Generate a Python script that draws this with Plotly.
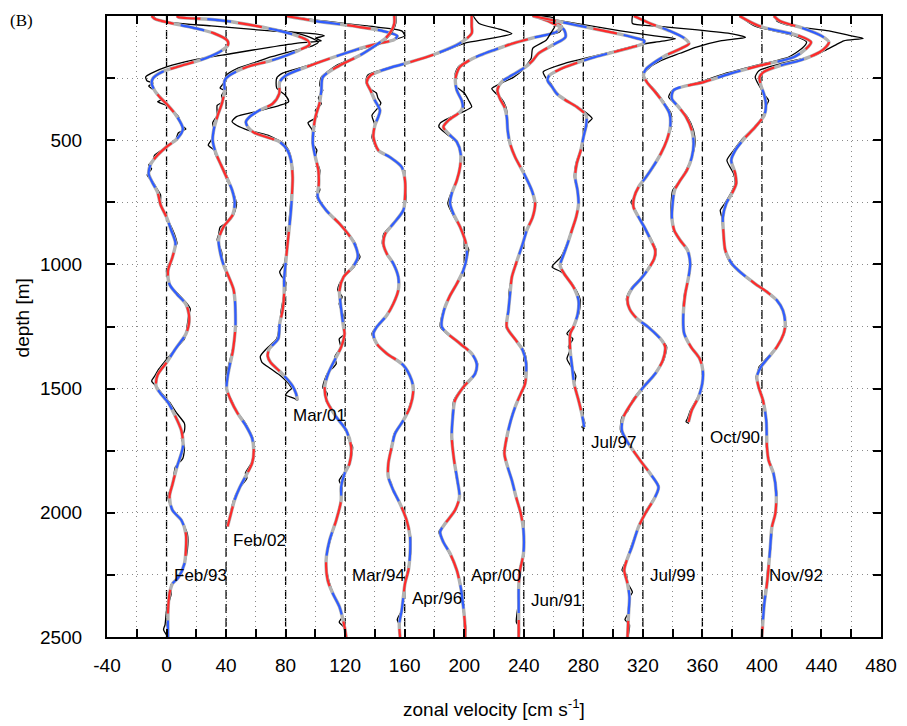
import plotly.graph_objects as go

# ---------------- data (depth [m], zonal velocity [cm/s] relative to profile offset) -------------
NAMES = ["Feb/93", "Feb/02", "Mar/01", "Mar/94", "Apr/96", "Apr/00",
         "Jun/91", "Jul/97", "Jul/99", "Oct/90", "Nov/92"]
OFFSETS = [0, 40, 80, 120, 160, 200, 240, 280, 320, 360, 400]
LABEL_DEPTH = [2252, 2111, 1608, 2252, 2344, 2252, 2352, 1715, 2252, 1695, 2252]

FEB93_S = [(0,-10),(11,-8),(30,4),(50,20),(70,32),(100,41),(120,41),(150,34),(175,24),(200,10),(225,-3),(250,-9),(270,-10),(300,-8),(330,-4),(360,1),(405,7),(455,11),(495,7),(527,0),(560,-6),(595,-10.5),(635,-12),(670,-9.5),(710,-6),(760,-4),(810,0),(860,3),(915,6),(970,4),(1025,1),(1080,2),(1120,7),(1160,13),(1200,15),(1240,15),(1280,13),(1340,6),(1395,0),(1445,-6),(1490,-7),(1520,-4),(1555,1),(1600,5),(1670,10),(1735,11),(1815,7),(1885,4),(1935,2),(1990,4),(2030,10),(2085,13),(2150,13),(2205,12),(2260,8),(2285,4),(2325,2),(2395,1),(2500,1)]
FEB93_R = [(0,-9),(20,-5),(40,30),(60,70),(72,100),(80,106),(90,100),(100,104),(110,87),(130,65),(152,43),(175,20),(205,0),(230,-10),(245,-14),(262,-13),(270,-9),(282,-12),(300,-8),(320,-5),(335,-3),(345,-6),(360,0),(405,8),(440,10),(455,13),(470,8),(500,6),(527,0),(560,-8),(580,-9),(600,-12),(615,-10),(640,-13),(670,-9),(700,-6),(720,-4),(760,-4),(810,0),(860,4),(890,6),(915,7),(945,5),(970,4),(1025,0),(1080,2),(1120,8),(1160,14),(1180,16),(1200,15),(1240,14),(1280,13),(1300,12),(1340,6),(1390,-1),(1420,-5),(1450,-8),(1470,-10),(1490,-7),(1520,-3),(1555,2),(1600,7),(1640,12),(1670,12),(1700,10),(1735,12),(1780,11),(1815,6),(1885,4),(1935,1),(1990,4),(2030,10),(2085,14),(2150,14),(2205,12),(2260,8),(2290,3),(2330,3),(2395,0),(2450,-1),(2470,-2),(2500,1)]

FEB02_S = [(0,-33),(5,-32),(12,-14),(20,0),(40,20),(60,36),(80,48),(100,55),(115,56),(135,50),(160,40),(180,30),(205,14),(240,2),(260,-1),(300,-1),(350,-2.7),(400,-5.6),(450,-8),(500,-9),(550,-7),(600,-3.4),(650,0.4),(700,4),(750,5.8),(800,4.5),(850,-1.8),(900,-5),(950,-4),(1000,-1.8),(1050,1.8),(1100,5),(1150,6),(1200,6.3),(1250,6.3),(1300,5.6),(1350,4.5),(1400,2.7),(1450,1.1),(1500,0.4),(1550,3.4),(1600,7.8),(1650,13.4),(1700,17.5),(1750,18.6),(1800,17.5),(1850,13.4),(1900,9),(1950,5.6),(2000,3.4),(2055,1)]
FEB02_R = [(0,-33),(5,-30),(15,-10),(30,10),(50,30),(70,48),(90,58),(105,62),(120,58),(140,45),(165,30),(190,18),(210,8),(240,0),(265,-1),(290,-4),(300,-1),(320,-3),(345,-2),(360,-6),(400,-6),(430,-9),(460,-8),(500,-10),(520,-12),(540,-8),(560,-7),(600,-3),(650,1),(700,4),(730,6),(760,7),(800,5),(830,1),(850,-4),(880,-5),(900,-6),(950,-3),(1000,-2),(1030,0),(1050,2),(1100,5),(1150,6),(1200,6),(1250,6),(1300,6),(1350,4),(1400,2),(1450,0),(1500,0),(1550,4),(1580,6),(1600,8),(1630,12),(1650,14),(1700,18),(1750,19),(1800,17),(1840,13),(1860,14),(1900,9),(1950,5),(2000,3),(2030,2),(2055,0)]

MAR01_S = [(0,0),(20,20),(40,45),(60,65),(80,75),(95,73),(110,63),(125,53),(158,36),(205,14),(240,0),(266,-4),(313,-4.3),(353,-8.7),(380,-17.7),(407,-24.4),(427,-26.7),(450,-25),(470,-21),(487,-13),(507,-4),(541,1.3),(581,3.6),(648,4.7),(715,4.3),(782,3.6),(850,2.5),(917,1.3),(997,0),(1060,-1),(1118,-1),(1185,-2),(1239,-4),(1300,-5),(1340,-11),(1370,-12),(1395,-10),(1430,-4),(1465,1.5),(1490,4.7),(1520,7),(1548,8)]
MAR01_R = [(0,1),(20,25),(40,55),(60,78),(80,80),(100,70),(125,55),(158,36),(205,12),(230,-2),(250,-6),(290,-6),(320,0),(345,2),(360,-4),(385,-20),(405,-33),(425,-36),(440,-33),(460,-25),(480,-12),(510,-2),(540,2),(580,4),(650,5),(715,4),(780,3),(850,2),(917,1),(970,0),(1000,-1),(1030,-4),(1045,-3),(1070,0),(1118,-1),(1185,-3),(1240,-4),(1300,-6),(1340,-13),(1370,-17),(1393,-16),(1420,-10),(1450,-3),(1480,2),(1500,4),(1510,2),(1525,0),(1540,6),(1548,8)]

MAR94_S = [(0,33),(30,33),(60,31),(90,27),(120,20),(158,10),(200,-4),(246,-15),(299,-16),(353,-17.3),(407,-20),(460,-21.3),(514,-21.7),(568,-20),(621,-18),(675,-17.7),(729,-18.4),(782,-12.8),(836,-3.8),(876,1.8),(917,6.3),(970,8.5),(1010,5.2),(1051,-1.1),(1104,-3.8),(1158,-3.1),(1212,-2),(1252,-1.1),(1279,-0.4),(1333,-2.7),(1373,-6),(1440,-11.4),(1494,-13.7),(1547,-12.5),(1614,-6),(1668,0.7),(1735,4),(1802,2.9),(1842,-0.4),(1896,-2.7),(1950,-2.7),(2030,-6),(2111,-10.5),(2191,-12.8),(2272,-11.7),(2325,-8.3),(2379,-3.8),(2460,-0.4),(2500,0.7)]
MAR94_R = [(0,34),(30,34),(60,32),(90,28),(120,21),(158,10),(200,-6),(246,-16),(280,-17),(299,-15),(330,-18),(353,-16),(380,-20),(407,-19),(430,-25),(460,-22),(514,-22),(540,-19),(568,-20),(621,-17),(675,-18),(700,-17),(729,-19),(782,-13),(836,-4),(876,2),(917,7),(945,8),(970,10),(990,8),(1010,6),(1051,-1),(1080,-4),(1104,-5),(1130,-2),(1158,-4),(1212,-1),(1252,-1),(1279,0),(1300,-4),(1333,-3),(1373,-7),(1400,-6),(1440,-12),(1494,-15),(1520,-12),(1547,-13),(1580,-9),(1614,-6),(1668,1),(1700,2),(1735,5),(1802,3),(1842,-1),(1870,-4),(1896,-2),(1950,-3),(2030,-6),(2111,-10),(2191,-13),(2272,-11),(2325,-8),(2379,-4),(2420,-2),(2440,-4),(2460,-1),(2500,1)]

APR96_S = [(0,45),(40,45),(70,45),(110,37),(152,21),(185,4),(205,-8),(239,-23),(266,-25.5),(299,-23),(340,-20),(380,-16.6),(410,-18),(440,-20),(487,-21),(541,-17.7),(568,-10),(608,-2),(662,0.2),(729,0.2),(782,-0.9),(836,-7.6),(876,-13),(917,-14.3),(957,-12),(997,-7.6),(1051,-4.3),(1104,-4.3),(1158,-7.6),(1205,-12),(1252,-18.8),(1279,-21),(1319,-18.8),(1359,-12),(1406,-0.9),(1467,4.7),(1507,5.8),(1574,3.6),(1628,-0.9),(1681,-6.5),(1735,-8.7),(1802,-11),(1856,-11),(1910,-7.6),(1964,-3.1),(2030,1.3),(2097,3.6),(2164,3.6),(2231,2.5),(2285,0.2),(2339,-0.9),(2393,-2),(2446,-3.6),(2500,-3.1)]
APR96_R = [(0,46),(30,50),(55,65),(71,72),(90,58),(110,40),(152,22),(185,4),(205,-9),(239,-25),(266,-26),(290,-24),(310,-19),(330,-18),(350,-16),(370,-18),(400,-22),(440,-20),(487,-22),(541,-18),(568,-10),(608,-2),(662,0),(729,1),(782,-1),(836,-8),(876,-14),(917,-15),(957,-12),(997,-8),(1051,-4),(1104,-4),(1158,-8),(1205,-12),(1252,-19),(1279,-22),(1319,-19),(1359,-12),(1406,-1),(1467,5),(1507,6),(1574,3),(1628,-1),(1681,-7),(1735,-9),(1802,-11),(1856,-11),(1880,-9),(1910,-8),(1964,-3),(2030,1),(2097,4),(2164,4),(2231,2),(2285,0),(2339,-1),(2393,-2),(2430,-5),(2446,-4),(2500,-3)]

APR00_S = [(0,50),(20,60),(42,65),(64,62),(85,48),(110,33),(135,21),(158,10.6),(180,3),(205,-3),(230,-5),(259,-6),(299,-5),(340,-1.7),(366,-1),(386,-2.8),(420,-10.6),(447,-14),(474,-10.6),(507,-5),(554,-2.4),(608,-2.8),(662,-5),(715,-8.4),(755,-9.5),(796,-7.3),(849,-2.8),(917,1.2),(970,1.7),(1024,-0.6),(1078,-5),(1131,-10),(1185,-13.6),(1252,-15),(1319,-2.8),(1359,5),(1400,8.4),(1440,7.3),(1494,-0.6),(1547,-6.2),(1614,-7.7),(1695,-8.4),(1789,-6.8),(1869,-4.6),(1936,-3.2),(1990,-6.2),(2044,-12.9),(2077,-16.2),(2118,-14),(2164,-9.5),(2231,-5),(2299,-2.4),(2379,-0.6),(2460,0.6),(2500,0.6)]
APR00_R = [(0,49),(20,59),(42,66),(64,64),(85,49),(110,32),(135,20),(158,10),(180,2),(205,-4),(230,-6),(250,-6),(280,-6),(310,0),(340,3),(366,5),(386,-1),(410,-10),(430,-16),(447,-17),(474,-12),(507,-5),(554,-2),(608,-3),(662,-5),(715,-9),(755,-11),(796,-8),(849,-3),(880,-1),(917,1),(940,3),(970,2),(1024,-1),(1078,-5),(1131,-10),(1185,-14),(1252,-16),(1319,-3),(1359,5),(1400,9),(1440,7),(1494,-1),(1547,-7),(1614,-8),(1695,-8),(1789,-7),(1869,-5),(1936,-3),(1990,-6),(2044,-13),(2077,-17),(2118,-14),(2164,-10),(2231,-5),(2299,-2),(2379,-1),(2460,1),(2500,1)]

JUN91_S = [(0,7),(25,18),(55,27),(85,28),(115,20),(150,10),(179,6),(206,1),(232,-6),(266,-15),(299,-17.7),(333,-16),(366,-13),(407,-11.4),(460,-10.8),(514,-9.2),(568,-5.8),(635,0.2),(702,5.4),(755,7.6),(809,6),(863,2),(917,-0.7),(997,-5.2),(1051,-8),(1118,-9.2),(1185,-10.3),(1252,-11.4),(1306,-5.2),(1346,-0.7),(1400,1.6),(1480,0.9),(1520,-2),(1574,-5.8),(1628,-8.7),(1695,-11.4),(1762,-13),(1816,-10.8),(1869,-8),(1936,-5.2),(2003,-2),(2070,-0.2),(2164,-0.2),(2231,-2.5),(2299,-3.4),(2379,-3.4),(2500,-3.4)]
JUN91_R = [(0,6),(8,20),(40,21),(70,18),(98,15),(130,6),(170,5),(219,-1),(247,-7),(270,-15),(292,-21.5),(310,-19),(333,-15),(366,-12),(407,-11),(460,-11),(514,-9),(568,-6),(635,0),(702,5),(755,8),(809,6),(863,2),(917,-1),(997,-5),(1051,-8),(1118,-10),(1185,-10),(1252,-12),(1306,-5),(1346,0),(1400,2),(1480,1),(1520,-2),(1574,-6),(1628,-9),(1695,-11),(1762,-13),(1816,-11),(1869,-8),(1936,-5),(2003,-2),(2070,0),(2164,0),(2231,-3),(2299,-3),(2379,-4),(2440,-5),(2460,-3),(2500,-3)]

JUL97_S = [(0,-34),(15,-22),(29,-11),(45,2),(60,14),(75,26),(90,36),(100,41),(112,40),(125,33),(138,25),(165,8),(190,-5),(215,-16),(240,-23),(260,-24),(285,-21),(313,-17.8),(340,-11.6),(366,-4.4),(400,1.9),(440,1.9),(487,0.1),(541,-1.7),(594,-4.4),(648,-5.5),(702,-3.9),(755,-3.2),(809,-4.8),(863,-7.7),(917,-10.6),(970,-13.8),(1004,-15.6),(1037,-12.9),(1091,-6.6),(1145,-3.2),(1198,-3.7),(1252,-6.6),(1279,-8.8),(1346,-8.8),(1413,-7.5),(1480,-6.2),(1547,-3.2),(1601,-1),(1655,0.6)]
JUL97_R = [(0,-34),(20,-15),(40,5),(60,25),(80,48),(92,62),(102,52),(115,38),(140,22),(165,5),(190,-12),(225,-27),(250,-25),(270,-22),(300,-19),(340,-12),(366,-4),(400,4),(413,6),(430,3),(450,2),(487,0),(541,-2),(594,-5),(648,-6),(702,-4),(755,-3),(809,-5),(863,-8),(917,-11),(970,-15),(1010,-21),(1030,-15),(1060,-10),(1091,-6),(1145,-2),(1198,-3),(1252,-7),(1279,-11),(1300,-7),(1330,-10),(1346,-9),(1380,-11),(1413,-8),(1450,-5),(1480,-6),(1547,-3),(1601,-1),(1640,1),(1655,-1),(1660,1)]

JUL99_S = [(0,-6),(30,5),(60,18),(90,28),(111,31),(130,26),(160,15),(190,7),(215,2),(239,0.4),(266,2.7),(306,8.3),(346,13.4),(393,17.9),(447,18.4),(500,16.1),(554,12.1),(608,6.7),(648,2.2),(689,-2.9),(729,-5.8),(769,-6.3),(809,-2.9),(849,0.9),(903,5.4),(943,8.3),(977,7.6),(1017,3.8),(1058,-1.3),(1098,-7.4),(1138,-10.3),(1178,-9),(1218,-4),(1252,3.5),(1306,12.8),(1332,15),(1386,13.4),(1440,8.3),(1494,0.4),(1547,-6.3),(1614,-13),(1668,-14.1),(1722,-9.6),(1789,-1.8),(1842,4.9),(1896,10.5),(1936,8.3),(2003,1.6),(2057,-2.9),(2138,-7.4),(2191,-10.8),(2231,-12.5),(2285,-10.3),(2339,-9),(2406,-9.6),(2500,-10.3)]
JUL99_R = [(0,-7),(30,-7),(40,8),(55,35),(72,60),(86,69),(100,52),(125,36),(150,25),(180,12),(210,4),(239,0),(266,3),(306,9),(346,14),(393,19),(447,19),(500,16),(554,12),(608,7),(648,2),(689,-3),(729,-6),(750,-8),(769,-6),(809,-3),(849,1),(903,6),(943,9),(977,8),(1017,4),(1058,-2),(1098,-8),(1138,-11),(1178,-9),(1218,-4),(1252,4),(1306,13),(1332,16),(1386,14),(1440,8),(1494,0),(1547,-7),(1590,-10),(1614,-14),(1668,-15),(1722,-10),(1789,-2),(1842,5),(1896,11),(1936,8),(2003,1),(2057,-3),(2138,-8),(2191,-11),(2231,-14),(2250,-11),(2285,-10),(2320,-7),(2339,-9),(2406,-10),(2430,-12),(2450,-9),(2500,-10)]

OCT90_S = [(0,25),(40,38),(80,65),(105,73),(130,70),(165,61.5),(199,39),(232,18.7),(266,0.8),(299,-19.4),(333,-20.5),(366,-16),(407,-10.9),(460,-7.1),(514,-5.9),(568,-7.1),(621,-10.4),(662,-14.9),(702,-18.7),(755,-20),(809,-20.5),(863,-18.9),(903,-14.9),(943,-10),(997,-8.2),(1051,-9.3),(1118,-11.5),(1185,-12.7),(1252,-12.8),(1279,-12.2),(1332,-7.7),(1379,-1.9),(1427,0.3),(1480,-0.1),(1534,-2.6),(1587,-7.1),(1634,-9.3)]
OCT90_R = [(0,25),(40,35),(80,62),(105,70),(130,67),(165,58),(199,36),(232,15),(266,-2),(299,-20),(326,-22.7),(350,-19),(366,-16),(407,-10),(460,-6),(514,-5),(568,-7),(621,-11),(662,-15),(702,-20),(755,-21),(809,-21),(863,-19),(903,-15),(943,-10),(997,-8),(1051,-9),(1118,-12),(1185,-13),(1252,-13),(1279,-12),(1332,-8),(1379,-2),(1427,0),(1480,0),(1534,-3),(1587,-8),(1620,-10),(1634,-11),(1640,-9)]

NOV92_S = [(0,8),(20,12),(50,28),(80,40),(105,45),(125,43),(145,39),(178,26),(199,12.5),(225,1.3),(246,-1.6),(279,-0.7),(319,1.6),(360,2.7),(400,1.6),(447,-4.5),(494,-11.9),(541,-17.9),(581,-20.6),(635,-17.9),(675,-17.3),(715,-20.2),(755,-24),(809,-26.2),(876,-25.8),(943,-24.6),(997,-20.2),(1037,-13.4),(1078,-4.5),(1111,3.4),(1145,10.1),(1185,14.1),(1240,15.7),(1279,14.6),(1332,10.1),(1379,3.8),(1413,-0.7),(1453,-3.4),(1494,-2.2),(1547,0.7),(1628,2.9),(1735,3.4),(1789,4.5),(1842,7.8),(1923,9.6),(2003,9),(2057,6.7),(2138,5.6),(2218,4.5),(2285,3.4),(2366,1.6),(2460,0.4),(2500,0)]
NOV92_R = [(0,9),(20,10),(40,20),(60,45),(80,60),(90,68),(100,55),(115,50),(140,42),(160,35),(190,14),(220,-2),(246,-4.5),(279,-2),(319,2),(340,4.5),(360,3),(400,1),(447,-5),(494,-13),(541,-19),(581,-23.5),(635,-19),(675,-18),(715,-21),(755,-25),(782,-28),(809,-27),(876,-26),(943,-25),(997,-21),(1037,-14),(1078,-5),(1111,3),(1145,10),(1185,14),(1240,16),(1279,15),(1332,10),(1379,3),(1400,0),(1413,-2),(1440,-3),(1453,-4),(1494,-2),(1547,1),(1628,3),(1735,3),(1789,5),(1842,8),(1923,10),(2003,9),(2057,7),(2138,6),(2218,4),(2285,3),(2366,1),(2460,0),(2500,0)]

SMOOTH = [FEB93_S, FEB02_S, MAR01_S, MAR94_S, APR96_S, APR00_S, JUN91_S, JUL97_S, JUL99_S, OCT90_S, NOV92_S]
RAW = [FEB93_R, FEB02_R, MAR01_R, MAR94_R, APR96_R, APR00_R, JUN91_R, JUL97_R, JUL99_R, OCT90_R, NOV92_R]

X_TICKS = list(range(-40, 481, 40))
Y_TICKS = list(range(0, 2501, 500))

# ---------------- figure ----------------
fig = go.Figure()

for off in OFFSETS:
    fig.add_shape(type="line", xref="x", yref="y", x0=off, x1=off, y0=0, y1=2500,
                  line=dict(color="black", width=1.3, dash="9px,5px"), layer="below")

for name, off, sm, raw, ldep in zip(NAMES, OFFSETS, SMOOTH, RAW, LABEL_DEPTH):
    rd = [p[0] for p in raw]
    rv = [p[1] + off for p in raw]
    fig.add_trace(go.Scatter(x=rv, y=rd, mode="lines", showlegend=False, hoverinfo="skip",
                             line=dict(color="black", width=1.3, shape="spline", smoothing=0.6)))
    sd = [p[0] for p in sm]
    sv = [p[1] + off for p in sm]
    for color, dash, width in [("#b2b2b2", "solid", 3.4),
                               ("#ff2a2a", "24px,38px", 2.2),
                               ("#2f5cff", "0px,31px,24px,7px", 2.2)]:
        fig.add_trace(go.Scatter(x=sv, y=sd, mode="lines", showlegend=False, hoverinfo="skip",
                                 line=dict(color=color, width=width, dash=dash,
                                           shape="spline", smoothing=0.8)))
    fig.add_annotation(x=off + 3.5, y=ldep, xref="x", yref="y", text=name, showarrow=False,
                       xanchor="left", yanchor="middle",
                       font=dict(family="Liberation Sans, Arial", size=17, color="black"))

GRID = dict(showgrid=True, gridcolor="#8a8a8a", gridwidth=1, griddash="1px,4px")
axis_common = dict(showline=True, linecolor="black", linewidth=2, mirror="ticks",
                   ticks="inside", ticklen=8, tickwidth=1.5, tickcolor="black",
                   zeroline=False, automargin=False,
                   tickfont=dict(family="Liberation Sans, Arial", size=19, color="black"),
                   **GRID)

fig.update_xaxes(range=[-40, 480], tickvals=X_TICKS, ticktext=[str(v) for v in X_TICKS],
                 ticklabelstandoff=10,
                 minor=dict(dtick=20, tick0=0, ticks="inside", ticklen=8, tickwidth=1.5,
                            tickcolor="black", **GRID),
                 **axis_common)
fig.update_yaxes(range=[2500, 0], tickvals=Y_TICKS, ticktext=[str(v) for v in Y_TICKS],
                 ticklabelstandoff=19,
                 minor=dict(dtick=250, tick0=0, ticks="inside", ticklen=8, tickwidth=1.5,
                            tickcolor="black", **GRID),
                 **axis_common)

fig.add_annotation(xref="paper", yref="paper", x=0.5, y=-0.1143, text="zonal velocity [cm s<sup>-1</sup>]",
                   showarrow=False, xanchor="center", yanchor="middle",
                   font=dict(family="Liberation Sans, Arial", size=19, color="black"))
fig.add_annotation(xref="paper", yref="paper", x=-0.1098, y=0.513, text="depth [m]", textangle=-90,
                   showarrow=False, xanchor="center", yanchor="middle",
                   font=dict(family="Liberation Sans, Arial", size=19, color="black"))
fig.add_annotation(xref="paper", yref="paper", x=-0.128, y=0.993, text="(B)",
                   showarrow=False, xanchor="left", yanchor="middle",
                   font=dict(family="Liberation Serif, Times New Roman", size=17, color="black"))

# the page body has an 8px default margin, so the figure is sized/offset to compensate
fig.update_layout(width=891, height=716, margin=dict(l=99, r=18, t=8, b=87, autoexpand=False),
                  paper_bgcolor="white", plot_bgcolor="white", showlegend=False)

fig.write_html("out.html")
